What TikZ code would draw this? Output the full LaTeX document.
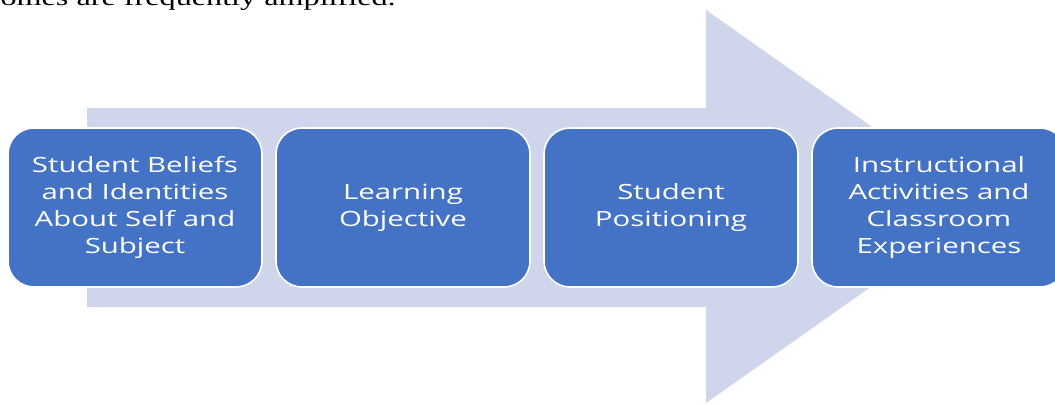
\documentclass[tikz,border=0pt]{standalone}
\usepackage{fontspec}
\setmainfont{Liberation Serif}
\newfontfamily\boxfont[FakeStretch=1.4]{Open Sans}
\newfontfamily\bodyfont[FakeStretch=1.4]{Liberation Serif}
\definecolor{stageblue}{RGB}{68, 114, 196}
\definecolor{arrowlilac}{RGB}{207, 213, 234}

\begin{document}
\begin{tikzpicture}[x=0.75pt, y=-0.75pt,
  stage/.style={draw=white, line width=1.2pt, fill=stageblue, rounded corners=19.5pt,
    minimum width=190.5pt, minimum height=119.25pt, inner sep=0pt, align=center,
    text=white, font=\boxfont\fontsize{15.75}{20.25}\selectfont}]
\useasboundingbox (0,0) rectangle (1055,403);
\clip (0,0) rectangle (1055,403);

% Sentence running above the figure
\node[anchor=base east, inner sep=0pt, font=\bodyfont\fontsize{17.25}{20}\selectfont] (sentence) at (396,6) {omes are frequently amplified.};

% Background arrow
\fill[arrowlilac] (87,108) -- (706,108) -- (706,10) -- (985,206.5) -- (706,403) -- (706,307) -- (87,307) -- cycle;

% Stages
\node[stage] (belief) at (135,207.5) {Student Beliefs\\and Identities\\About Self and\\Subject};
\node[stage] (objective) at (403,207.5) {Learning\\Objective};
\node[stage] (position) at (671,207.5) {Student\\Positioning};
\node[stage] (activity) at (939,207.5) {Instructional\\Activities and\\Classroom\\Experiences};
\end{tikzpicture}
\end{document}
